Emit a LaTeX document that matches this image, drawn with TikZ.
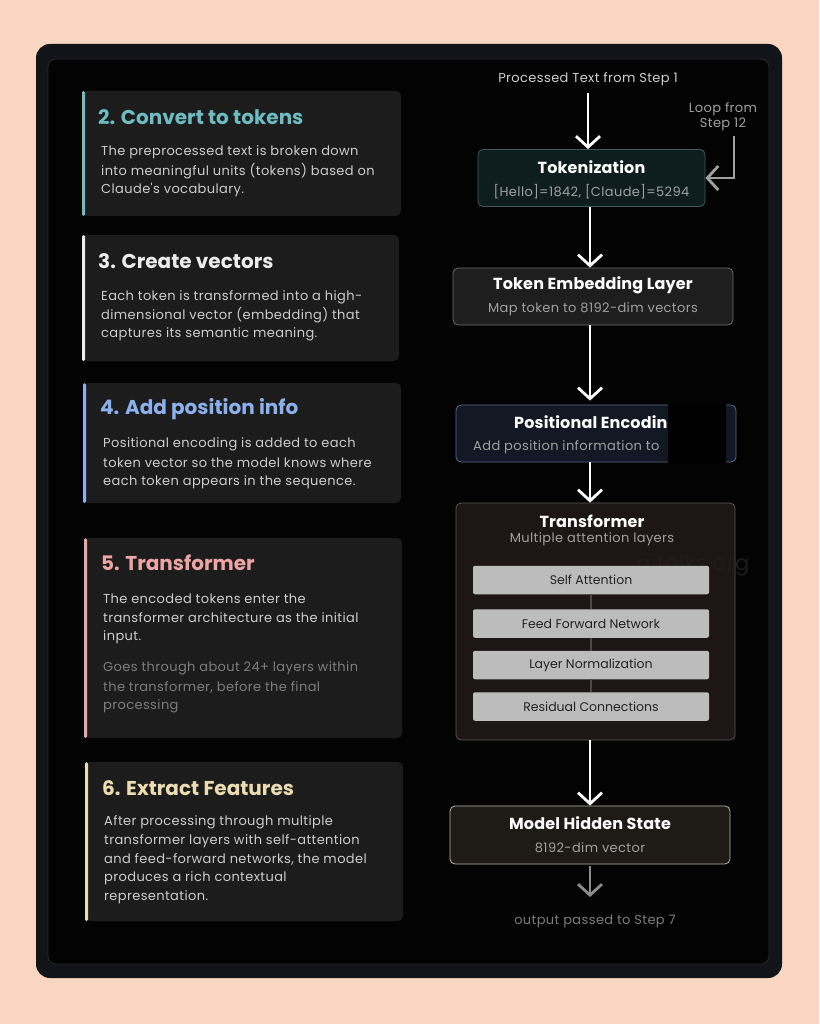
\documentclass[tikz,border=0pt]{standalone}
\usepackage{fontspec}
\setmainfont{Poppins}
\newfontfamily\spaced{Poppins}[LetterSpace=3.0]
\newfontfamily\spacedb{Poppins}[LetterSpace=1.0]
\usetikzlibrary{arrows.meta}
\definecolor{peach}{RGB}{249,214,193}
\definecolor{framec}{RGB}{17,20,24}
\definecolor{panelc}{RGB}{3,3,3}
\definecolor{panelb}{RGB}{38,40,44}
\definecolor{cardc}{RGB}{28,28,28}
\definecolor{tealc}{RGB}{108,188,194}
\definecolor{whitec}{RGB}{236,236,236}
\definecolor{bluec}{RGB}{140,176,236}
\definecolor{pinkc}{RGB}{236,164,164}
\definecolor{creamc}{RGB}{236,220,178}
\definecolor{bodyc}{RGB}{205,205,205}
\definecolor{dimc}{RGB}{125,125,125}
\definecolor{tokfill}{RGB}{14,30,31}
\definecolor{tokdraw}{RGB}{62,92,92}
\definecolor{embfill}{RGB}{30,30,30}
\definecolor{embdraw}{RGB}{110,110,110}
\definecolor{posfill}{RGB}{18,24,36}
\definecolor{posdraw}{RGB}{90,108,140}
\definecolor{trfill}{RGB}{30,22,22}
\definecolor{trdraw}{RGB}{100,82,82}
\definecolor{layfill}{RGB}{188,188,188}
\definecolor{laytext}{RGB}{34,34,34}
\definecolor{layline}{RGB}{78,70,70}
\definecolor{hidfill}{RGB}{30,26,22}
\definecolor{hiddraw}{RGB}{190,180,165}
\definecolor{subc}{RGB}{160,160,160}
\definecolor{arrgray}{RGB}{140,140,140}
\definecolor{wmark}{RGB}{30,28,28}
\begin{document}
\begin{tikzpicture}[x=1pt,y=-1pt,
  card/.style={fill=cardc, rounded corners=5pt},
  ttl/.style={anchor=west, inner sep=0pt, font=\fontsize{20}{22}\selectfont\bfseries},
  body/.style={anchor=west, inner sep=0pt, text=bodyc, font=\spaced\fontsize{13}{15}\selectfont},
  dim/.style={body, text=dimc},
  bx/.style={rounded corners=5pt, line width=0.8pt, inner sep=0pt},
  bt/.style={inner sep=0pt, text=white, font=\spacedb\fontsize{16}{18}\selectfont\bfseries},
  bs/.style={inner sep=0pt, text=subc, font=\spaced\fontsize{13}{15}\selectfont},
  lay/.style={fill=layfill, rounded corners=2pt, minimum width=236pt, minimum height=28.5pt, inner sep=0pt, text=laytext, font=\fontsize{12.5}{14}\selectfont},
  arr/.style={draw=white, line width=2.8pt, -{Straight Barb[length=11pt,width=24pt]}},
  garr/.style={draw=arrgray, line width=2.8pt, -{Straight Barb[length=11pt,width=24pt]}},
]
\useasboundingbox (0,0) rectangle (819,1024);
\fill[peach] (0,0) rectangle (819,1024);
\fill[framec, rounded corners=14pt] (36,44) rectangle (782,978);
\filldraw[fill=panelc, draw=panelb, line width=0.8pt, rounded corners=8pt] (48,59) rectangle (769,964);

% ---------- left cards ----------
\fill[card] (82,91) rectangle (401,216);
\fill[tealc, rounded corners=1.5pt] (82,91) rectangle (85,216);
\node[ttl, text=tealc] (t2) at (98,117) {2. Convert to tokens};
\node[body] (b2a) at (101,152) {The preprocessed text is broken down};
\node[body] (b2b) at (101,171) {into meaningful units (tokens) based on};
\node[body] (b2c) at (101,190) {Claude's vocabulary.};

\fill[card] (82,235) rectangle (399,361);
\fill[whitec, rounded corners=1.5pt] (82,235) rectangle (85,361);
\node[ttl, text=whitec] (t3) at (98,261) {3. Create vectors};
\node[body] (b3a) at (101,297) {Each token is transformed into a high-};
\node[body] (b3b) at (101,315) {dimensional vector (embedding) that};
\node[body] (b3c) at (101,334) {captures its semantic meaning.};

\fill[card] (83,383) rectangle (401,503);
\fill[bluec, rounded corners=1.5pt] (83,383) rectangle (86,503);
\node[ttl, text=bluec] (t4) at (100,409) {4. Add position info};
\node[body] (b4a) at (103,444) {Positional encoding is added to each};
\node[body] (b4b) at (103,463) {token vector so the model knows where};
\node[body] (b4c) at (103,482) {each token appears in the sequence.};

\fill[card] (84,538) rectangle (402,738);
\fill[pinkc, rounded corners=1.5pt] (84,538) rectangle (87,738);
\node[ttl, text=pinkc] (t5) at (101,563) {5. Transformer};
\node[body] (b5a) at (103,599) {The encoded tokens enter the};
\node[body] (b5b) at (103,618) {transformer architecture as the initial};
\node[body] (b5c) at (103,637) {input.};
\node[dim] (b5d) at (103,668) {Goes through about 24+ layers within};
\node[dim] (b5e) at (103,687) {the transformer, before the final};
\node[dim] (b5f) at (103,706) {processing};

\fill[card] (85,762) rectangle (403,921);
\fill[creamc, rounded corners=1.5pt] (85,762) rectangle (88,921);
\node[ttl, text=creamc] (t6) at (102,788) {6. Extract Features};
\node[body] (b6a) at (104,822) {After processing through multiple};
\node[body] (b6b) at (104,841) {transformer layers with self-attention};
\node[body] (b6c) at (104,859) {and feed-forward networks, the model};
\node[body] (b6d) at (104,878) {produces a rich contextual};
\node[body] (b6e) at (104,897) {representation.};

% ---------- right flow ----------
\node[bs, text=whitec!88!black] (proc) at (588,79) {Processed Text from Step 1};
\node[bs, align=center, text=subc, font=\spaced\fontsize{13}{15}\selectfont] (loop) at (723,117) {Loop from\\Step 12};
\coordinate (loopstart) at (734,136);

\node[bx, fill=tokfill, draw=tokdraw, minimum width=227pt, minimum height=57pt] (tok) at (591.5,178) {};
\node[bt] (tokt) at (591.5,167) {Tokenization};
\node[bs] (toks) at (591.5,192) {[Hello]=1842, [Claude]=5294};

\node[bx, fill=embfill, draw=embdraw, minimum width=280pt, minimum height=57pt] (emb) at (593,296.5) {};
\node[bt] (embt) at (593,285) {Token Embedding Layer};
\node[bs] (embs) at (593,309) {Map token to 8192-dim vectors};

\node[bx, fill=posfill, draw=posdraw, minimum width=280pt, minimum height=57pt] (pos) at (596,433.5) {};
\node[bt, anchor=west] (post) at (514,422) {Positional Encodin};
\node[bs, anchor=west] (poss) at (473,447) {Add position information to};
\fill[black] (668,403.5) rectangle (726,464);

\node[bx, fill=trfill, draw=trdraw, minimum width=279pt, minimum height=237pt] (tr) at (595.5,621.5) {};
\node[text=wmark, inner sep=0pt, font=\spaced\fontsize{21}{23}\selectfont] (wm) at (693,565) {aifolks.org};
\node[bt] (trt) at (592,521) {Transformer};
\node[bs] (trs) at (592,539) {Multiple attention layers};
\node[lay] (sa) at (591,580) {Self Attention};
\node[lay] (ffn) at (591,623.5) {Feed Forward Network};
\node[lay] (ln) at (591,665) {Layer Normalization};
\node[lay] (rc) at (591,706.5) {Residual Connections};
\draw[draw=layline, line width=1.2pt] (sa) -- (ffn);
\draw[draw=layline, line width=1.2pt] (ffn) -- (ln);
\draw[draw=layline, line width=1.2pt] (ln) -- (rc);

\node[bx, fill=hidfill, draw=hiddraw, minimum width=280pt, minimum height=58pt] (hid) at (590,835) {};
\node[bt] (hidt) at (590,823) {Model Hidden State};
\node[bs] (hids) at (590,848) {8192-dim vector};
\node[bs, text=dimc] (out) at (595,921) {output passed to Step 7};
\coordinate (outarr) at (590,897);

% ---------- connectors ----------
\draw[arr, shorten <=7pt] (proc.south) -- (proc.south |- tok.north);
\draw[arr, draw=subc] (loopstart) |- (tok.east);
\draw[arr] (tok.south -| 590,0) -- (emb.north -| 590,0);
\draw[arr] (emb.south -| 590,0) -- ([yshift=4pt]pos.north -| 590,0);
\draw[arr] (pos.south -| 590,0) -- (tr.north -| 590,0);
\draw[arr] (tr.south -| 590,0) -- (hid.north -| 590,0);
\draw[garr, shorten <=2pt] (hid.south -| 590,0) -- (outarr);
\end{tikzpicture}
\end{document}
